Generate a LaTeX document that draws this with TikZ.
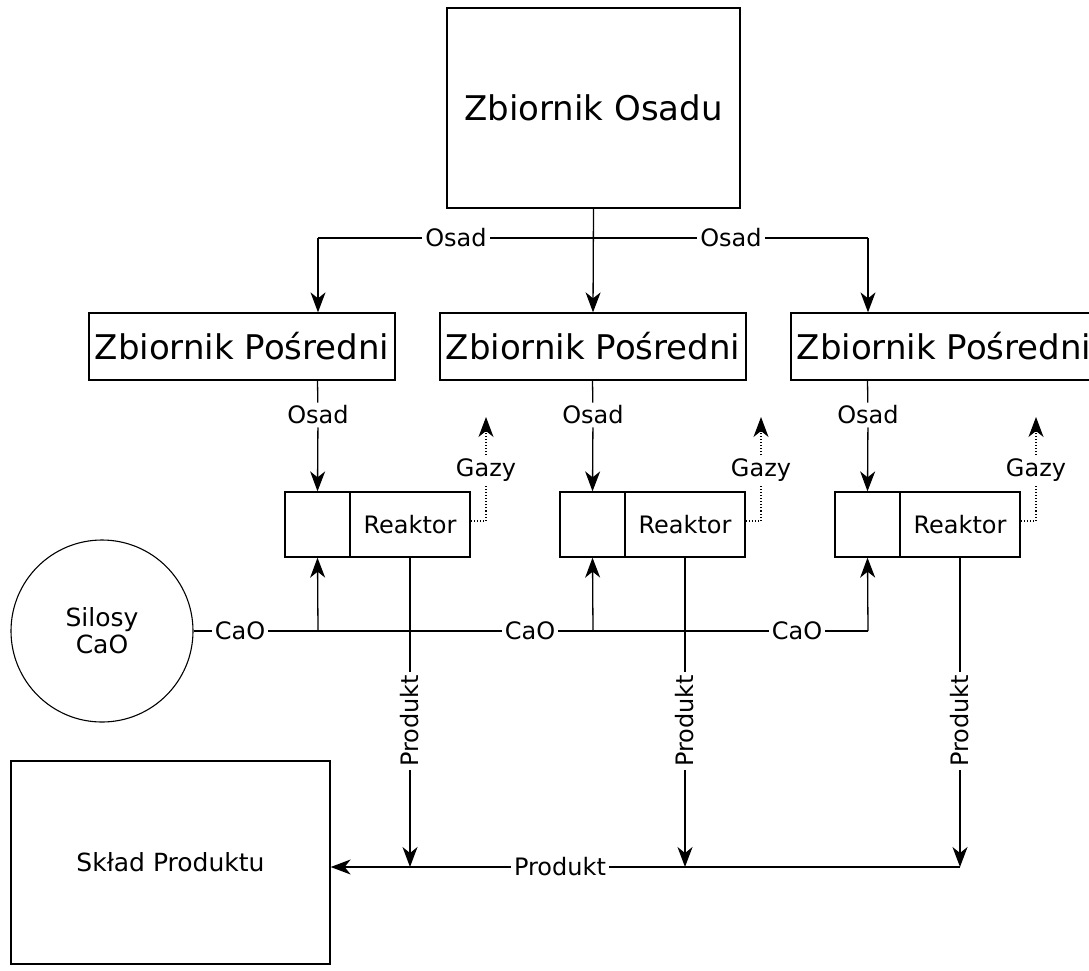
\documentclass[tikz,border=0pt]{standalone}
\usepackage{fontspec}
\setmainfont{DejaVu Sans}
\usetikzlibrary{arrows.meta}
\newcommand{\bigtxt}{\fontsize{34}{40}\selectfont}
\newcommand{\smtxt}{\fontsize{24}{27}\selectfont}
\tikzset{
  box/.style={draw, line width=1.3pt, inner sep=0pt},
  bigbox/.style={box, font=\bigtxt},
  midbox/.style={box, minimum width=306pt, minimum height=67pt, font=\bigtxt},
  rleft/.style={box, minimum width=65pt, minimum height=65pt},
  rright/.style={box, minimum width=120pt, minimum height=65pt, font=\smtxt},
  lbl/.style={fill=white, inner sep=3pt, font=\smtxt},
  conn/.style={line width=1.3pt},
  tip/.style={-{Stealth[length=20pt,width=15pt,inset=6pt]}},
  arr/.style={conn, tip},
  gas/.style={line width=1.1pt, dotted},
}
\begin{document}
\begin{tikzpicture}[x=1pt,y=-1pt]
\useasboundingbox (0,0) rectangle (1089,970);
\fill[white] (0,0) rectangle (1089,970);

% main nodes
\node[bigbox, minimum width=293pt, minimum height=200pt] (top) at (593.5,108) {Zbiornik Osadu};
\node[midbox] (p1) at (242,346.5) {Zbiornik Pośredni};
\node[midbox] (p2) at (593,346.5) {Zbiornik Pośredni};
\node[midbox] (p3) at (944,346.5) {Zbiornik Pośredni};

\node[rleft] (r1a) at (317.5,524.5) {};
\node[rright] (r1b) at (410,524.5) {Reaktor};
\node[rleft] (r2a) at (592.5,524.5) {};
\node[rright] (r2b) at (685,524.5) {Reaktor};
\node[rleft] (r3a) at (867.5,524.5) {};
\node[rright] (r3b) at (960,524.5) {Reaktor};

\node[box, line width=1.1pt, circle, minimum size=182pt, align=center, font=\fontsize{25}{27}\selectfont] (silo) at (102,631) {Silosy\\CaO};
\node[box, minimum width=319pt, minimum height=203pt, font=\fontsize{25}{28}\selectfont] (store) at (170.5,862.5) {Skład Produktu};

% coordinates
\coordinate (o1) at (318,238);
\coordinate (o3) at (868,238);
\coordinate (c1) at (318,631);
\coordinate (c2) at (593,631);
\coordinate (c3) at (868,631);
\coordinate (d1) at (410,867);
\coordinate (d2) at (685,867);
\coordinate (d3) at (960,867);
\coordinate (g1c) at (486,521);
\coordinate (g2c) at (761,521);
\coordinate (g3c) at (1036,521);
\coordinate (g1t) at (486,417);
\coordinate (g2t) at (761,417);
\coordinate (g3t) at (1036,417);

% label nodes
\node[lbl] (lt1) at (456,238) {Osad};
\node[lbl] (lt2) at (731,238) {Osad};
\node[lbl] (lo1) at (318,415) {Osad};
\node[lbl] (lo2) at (593,415) {Osad};
\node[lbl] (lo3) at (868,415) {Osad};
\node[lbl] (lg1) at (486,470) {Gazy};
\node[lbl] (lg2) at (761,470) {Gazy};
\node[lbl] (lg3) at (1036,470) {Gazy};
\node[lbl] (lc1) at (240,631) {CaO};
\node[lbl] (lc2) at (530,631) {CaO};
\node[lbl] (lc3) at (797,631) {CaO};
\node[lbl, rotate=90] (lp1) at (410,721) {Produkt};
\node[lbl, rotate=90] (lp2) at (685,721) {Produkt};
\node[lbl, rotate=90] (lp3) at (960,721) {Produkt};
\node[lbl] (lph) at (560,867) {Produkt};

% sediment distribution
\draw[conn] (o1) -- (lt1) -- (lt2) -- (o3);
\draw[arr] (top.south) -- (p2.north);
\draw[arr] (o1) -- (o1 |- p1.north);
\draw[arr] (o3) -- (o3 |- p3.north);

% intermediate tanks to reactors
\draw[conn] (p1.south -| r1a.north) -- (lo1);
\draw[arr] (lo1) -- (r1a.north);
\draw[conn] (p2.south -| r2a.north) -- (lo2);
\draw[arr] (lo2) -- (r2a.north);
\draw[conn] (p3.south -| r3a.north) -- (lo3);
\draw[arr] (lo3) -- (r3a.north);

% gases
\draw[gas] ([yshift=3.5pt]r1b.east) -- (g1c) -- (lg1);
\draw[gas, tip] (lg1) -- (g1t);
\draw[gas] ([yshift=3.5pt]r2b.east) -- (g2c) -- (lg2);
\draw[gas, tip] (lg2) -- (g2t);
\draw[gas] ([yshift=3.5pt]r3b.east) -- (g3c) -- (lg3);
\draw[gas, tip] (lg3) -- (g3t);

% CaO
\draw[conn] (silo.east |- c1) -- (lc1) -- (lc2) -- (lc3) -- (c3);
\draw[arr] (c1) -- (r1a.south);
\draw[arr] (c2) -- (r2a.south);
\draw[arr] (c3) -- (r3a.south);

% product
\draw[conn] (r1b.south) -- (lp1);
\draw[arr] (lp1) -- (d1);
\draw[conn] (r2b.south) -- (lp2);
\draw[arr] (lp2) -- (d2);
\draw[conn] (r3b.south) -- (lp3);
\draw[arr] (lp3) -- (d3);
\draw[conn] (d3) -- (lph);
\draw[arr] (lph) -- (d3 -| store.east);
\end{tikzpicture}
\end{document}
